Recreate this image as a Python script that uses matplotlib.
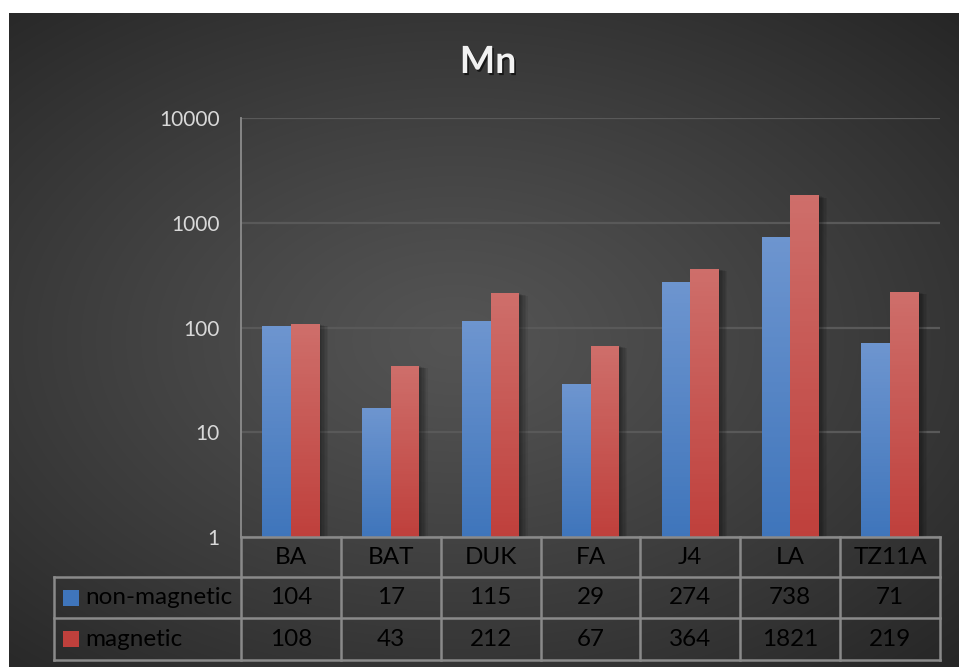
import numpy as np
import matplotlib
matplotlib.use("Agg")
import matplotlib.pyplot as plt
import matplotlib.patheffects as pe
from matplotlib.colors import LinearSegmentedColormap
from matplotlib.ticker import NullLocator
from matplotlib.transforms import blended_transform_factory

plt.rcParams['font.family'] = ['Lato', 'DejaVu Sans']

# ---- data ----
categories = ['BA', 'BAT', 'DUK', 'FA', 'J4', 'LA', 'TZ11A']
non_magnetic = [104, 17, 115, 29, 274, 738, 71]
magnetic = [108, 43, 212, 67, 364, 1821, 219]
series_names = ['non-magnetic', 'magnetic']
chart_title = 'Mn'
y_ticks = [1, 10, 100, 1000, 10000]

# ---- styling ----
W, H = 959, 667
blue_top, blue_bot = '#6d95cf', '#3f75bb'
red_top, red_bot = '#ce6e6a', '#bf403c'
grid_col = '#595959'
table_line = '#8a8a8a'
table_text = '#000000'
tick_col = '#d9d9d9'

fig = plt.figure(figsize=(W / 100, H / 100), dpi=100)
fig.patch.set_facecolor('white')

# radial dark background of the chart area
bg = fig.add_axes([9 / W, 0, (W - 9) / W, (H - 13) / H])
bg.set_axis_off()
ny, nx = 330, 480
yy, xx = np.mgrid[0:1:ny * 1j, 0:1:nx * 1j]
r = np.sqrt(((xx - 0.47) / 0.53) ** 2 + ((yy - 0.5) / 0.5) ** 2) / np.sqrt(2)
r = np.clip(r, 0, 1)
shade = (84 - 46 * r ** 1.15) / 255.0
bg.imshow(np.dstack([shade, shade, shade]), extent=[0, 1, 0, 1],
          aspect='auto', origin='upper', interpolation='bilinear')
bg.set_xlim(0, 1)
bg.set_ylim(0, 1)

# main plotting area
ax_l, ax_r, ax_t, ax_b = 241, 940, 118, 537
ax = fig.add_axes([ax_l / W, (H - ax_b) / H, (ax_r - ax_l) / W, (ax_b - ax_t) / H])
ax.patch.set_alpha(0)
ax.set_yscale('log')
ax.set_ylim(1, 10000)
ax.set_xlim(-0.5, len(categories) - 0.5)
for side in ('top', 'right', 'bottom'):
    ax.spines[side].set_visible(False)
ax.spines['left'].set_color('#8c8c8c')
ax.spines['left'].set_linewidth(1.3)
ax.set_yticks(y_ticks)
ax.set_yticklabels([str(t) for t in y_ticks])
ax.yaxis.set_minor_locator(NullLocator())
ax.tick_params(axis='y', length=0, pad=15.5, colors=tick_col, labelsize=15)
ax.set_xticks([])
ax.set_axisbelow(True)
ax.yaxis.grid(True, color=grid_col, linewidth=1.6)

x = np.arange(len(categories))
bw = 0.287
shadow = [pe.SimplePatchShadow(offset=(d, -0.3 * d), shadow_rgbFace='black', alpha=0.07)
          for d in (1, 2, 3, 4, 5, 6)] + [pe.Normal()]

series = [(non_magnetic, x - bw / 2, blue_top, blue_bot),
          (magnetic, x + bw / 2, red_top, red_bot)]
for vals, xs, ctop, cbot in series:
    cmap = LinearSegmentedColormap.from_list('g', [cbot, ctop])
    bars = ax.bar(xs, vals, width=bw, color=cbot, zorder=2, linewidth=0)
    for b in bars:
        b.set_path_effects(shadow)
    for xc, v in zip(xs, vals):
        n = 60
        edges = np.geomspace(1, v, n + 1)
        z = np.linspace(0, 1, n)[:, None]
        ax.pcolormesh([xc - bw / 2, xc + bw / 2], edges, z, cmap=cmap,
                      vmin=0, vmax=1, zorder=3, shading='flat', linewidth=0,
                      antialiased=False)

# ---- data table under the plot ----
tr = blended_transform_factory(ax.transData, ax.transAxes)
row_y = [0, -40 / 419, -81 / 419, -123 / 419]
x_leg = -0.5 - 187 / 99.9
x_right = len(categories) - 0.5
lk = dict(color=table_line, linewidth=1.8, transform=tr, clip_on=False, zorder=5)
ax.plot([-0.5, x_right], [row_y[0], row_y[0]], **lk)
for yv in row_y[1:]:
    ax.plot([x_leg, x_right], [yv, yv], **lk)
for i in range(len(categories) + 1):
    ax.plot([-0.5 + i, -0.5 + i], [row_y[0], row_y[3]], **lk)
ax.plot([x_leg, x_leg], [row_y[1], row_y[3]], **lk)

fs = 17.5
mid = [(row_y[i] + row_y[i + 1]) / 2 for i in range(3)]
for xi, cat in zip(x, categories):
    ax.text(xi, mid[0], cat, ha='center', va='center', color=table_text,
            fontsize=fs, transform=tr)
for row, vals in enumerate([non_magnetic, magnetic]):
    for xi, v in zip(x, vals):
        ax.text(xi, mid[row + 1], str(v), ha='center', va='center',
                color=table_text, fontsize=fs, transform=tr)

leg_cols = [blue_bot, red_bot]
for row, (name, c) in enumerate(zip(series_names, leg_cols)):
    ax.plot([x_leg + 0.17], [mid[row + 1]], marker='s', markersize=11.5,
            color=c, markeredgewidth=0, transform=tr, clip_on=False, zorder=6)
    ax.text(x_leg + 0.31, mid[row + 1], name, ha='left', va='center',
            color=table_text, fontsize=fs, transform=tr)

# ---- title ----
fig.text(488 / W, (H - 73) / H, chart_title, ha='center', va='baseline',
         color='#f2f2f2', fontsize=27, fontweight='bold',
         path_effects=[pe.SimplePatchShadow(offset=(1.2, -1.5), shadow_rgbFace='black',
                                            alpha=0.6), pe.Normal()])

fig.savefig('out.png', dpi=100, facecolor=fig.get_facecolor())
